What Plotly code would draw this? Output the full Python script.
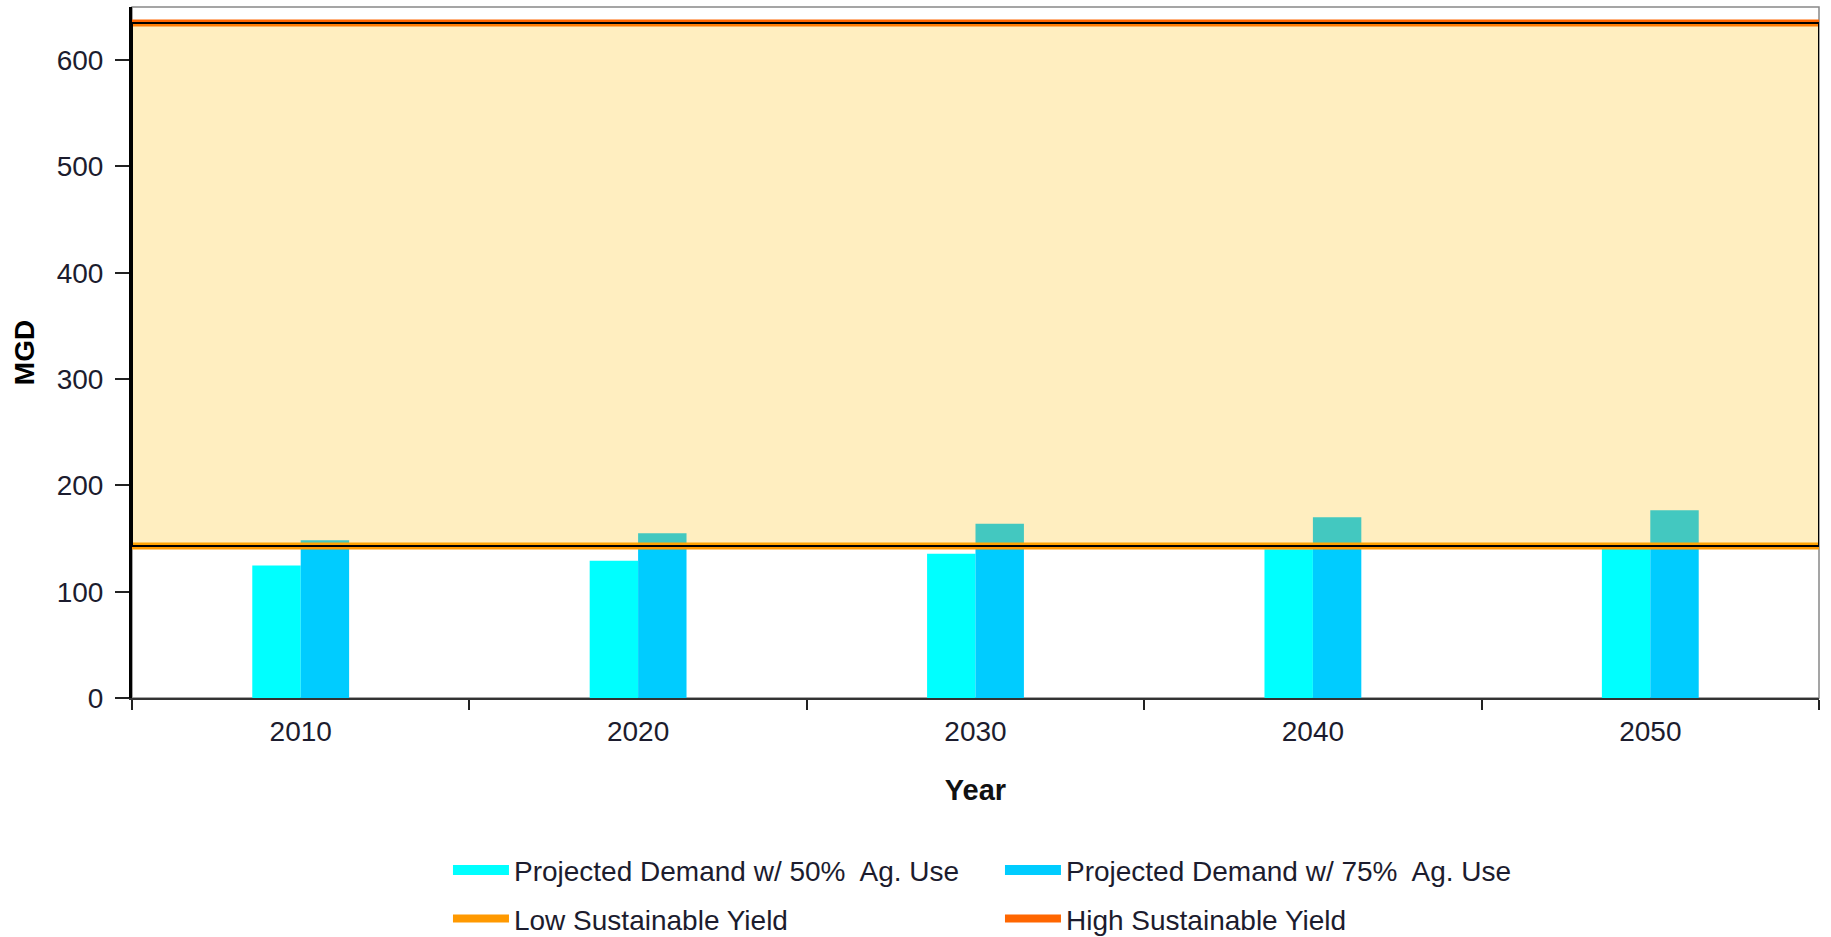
import plotly.graph_objects as go

years = ['2010', '2020', '2030', '2040', '2050']
demand_50 = [124.6, 129.0, 135.6, 140.0, 143.0]
demand_75 = [148.4, 155.0, 163.8, 170.0, 176.6]
low_yield = 143
high_yield = 635

name_50 = 'Projected Demand w/ 50%  Ag. Use'
name_75 = 'Projected Demand w/ 75%  Ag. Use'
name_low = 'Low Sustainable Yield'
name_high = 'High Sustainable Yield'

c50 = '#00FFFF'
c75 = '#00CCFF'
c_low = '#FF9900'
c_high = '#FF6600'

FONT = 'Liberation Sans, Arial, sans-serif'
TXT = '#1c1c2e'

fig = go.Figure()
fig.add_bar(x=years, y=demand_50, marker=dict(color=c50, line=dict(width=0)),
            name=name_50, showlegend=False)
fig.add_bar(x=years, y=demand_75, marker=dict(color=c75, line=dict(width=0)),
            name=name_75, showlegend=False)

edge = [-0.5, len(years) - 0.5]
fig.add_scatter(x=edge, y=[low_yield, low_yield], xaxis='x2', mode='lines',
                line=dict(color=c_low, width=7), showlegend=False, name=name_low)
fig.add_scatter(x=edge, y=[high_yield, high_yield], xaxis='x2', mode='lines',
                line=dict(color=c_high, width=7), showlegend=False, name=name_high)
fig.add_scatter(x=[edge[0], edge[1], edge[1], edge[0], edge[0]],
                y=[low_yield, low_yield, high_yield, high_yield, low_yield],
                xaxis='x2', mode='lines', fill='toself',
                fillcolor='rgba(255,189,16,0.263)',
                line=dict(color='black', width=2), showlegend=False, hoverinfo='skip')

# legend entries (two legends -> two rows)
for nm, col, w, lg in [(name_50, c50, 14, 'legend'), (name_75, c75, 14, 'legend'),
                       (name_low, c_low, 8, 'legend2'), (name_high, c_high, 8, 'legend2')]:
    fig.add_scatter(x=[None], y=[None], mode='lines', name=nm, legend=lg,
                    line=dict(color=col, width=w), showlegend=True)

leg_common = dict(orientation='h', xanchor='left', yanchor='top',
                  font=dict(family=FONT, size=28, color=TXT),
                  itemwidth=56, entrywidth=481, entrywidthmode='pixels',
                  traceorder='normal', bgcolor='rgba(0,0,0,0)')

fig.update_layout(
    template='none',
    width=1831, height=937,
    margin=dict(l=132, r=12, t=7, b=239, autoexpand=False),
    paper_bgcolor='white', plot_bgcolor='white',
    font=dict(family=FONT, size=26, color=TXT),
    barmode='group', bargap=0.713, bargroupgap=0,
    showlegend=True,
    legend=dict(x=0.1873, y=-0.213, **leg_common),
    legend2=dict(x=0.1873, y=-0.2835, **leg_common),
    xaxis=dict(type='category', categoryorder='array', categoryarray=years,
               range=edge, tickson='boundaries', ticks='outside', ticklen=10,
               tickwidth=2, tickcolor='#222', showline=True, linecolor='#333',
               linewidth=2, showgrid=False, zeroline=False, automargin=False,
               tickfont=dict(size=28, color=TXT), ticklabelstandoff=7,
               title=dict(text='<b>Year</b>', font=dict(size=29, color='#111'), standoff=34)),
    xaxis2=dict(overlaying='x', range=edge, visible=False),
    yaxis=dict(range=[0, 650], tickvals=[0, 100, 200, 300, 400, 500, 600],
               ticks='outside', ticklen=14, tickwidth=2, tickcolor='#222',
               showline=True, linecolor='black', linewidth=3, showgrid=False,
               zeroline=False, automargin=False,
               tickfont=dict(size=28, color=TXT), ticklabelstandoff=6,
               title=dict(text='<b>MGD</b>', font=dict(size=28, color='black'), standoff=14)),
    shapes=[dict(type='rect', xref='paper', yref='paper', x0=0, x1=1, y0=0, y1=1,
                 line=dict(color='#888', width=1.5), layer='below')],
)

fig.write_html('out.html')
